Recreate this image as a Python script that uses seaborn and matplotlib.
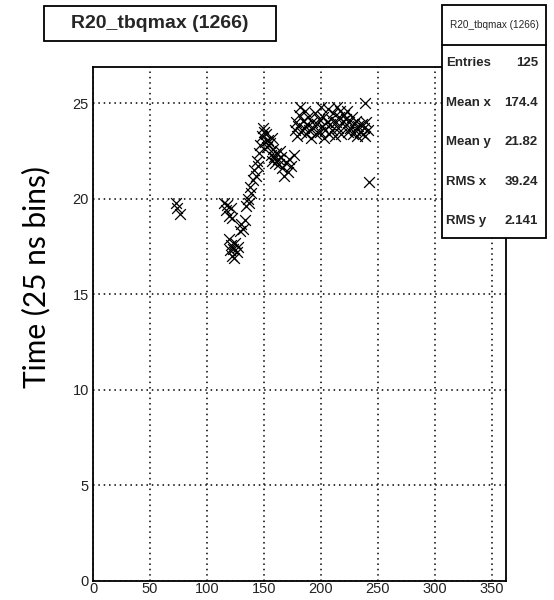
import matplotlib
matplotlib.use("Agg")
import matplotlib.pyplot as plt
import seaborn as sns
import numpy as np
import pandas as pd
from matplotlib.patches import Rectangle
from matplotlib.lines import Line2D
from matplotlib.ticker import MultipleLocator

# ---- data ----
x_vals = [73, 74, 76,
          115, 117, 118, 119, 121, 122,
          119, 120, 121, 122, 123, 124, 125, 126, 127,
          129, 130, 132, 133,
          134, 136, 137, 139, 138,
          140, 141, 143, 144, 145, 146, 147,
          148, 149, 150, 151, 152, 153, 154, 155, 157,
          156, 157, 158, 159, 160, 161, 162, 163, 164, 165,
          166, 168, 169, 171, 172, 174, 176,
          177, 178, 179, 180, 181, 182, 183, 184, 185, 186, 187, 188, 189, 190, 191, 192, 193, 195, 196, 197, 198, 199,
          200, 201, 202, 203, 204, 205, 206, 207, 208, 209, 210, 211, 212, 213, 214, 215, 216, 217, 218, 219,
          220, 221, 222, 223, 224, 225, 226, 227, 228, 229, 230, 231, 232, 233, 234,
          236, 237, 238, 239, 240, 241,
          239, 242]
y_vals = [19.8, 19.5, 19.2,
          19.8, 19.4, 19.7, 19.1, 19.5, 19.0,
          17.9, 17.3, 17.6, 17.0, 17.4, 16.9, 17.7, 17.2, 17.5,
          18.3, 18.7, 18.4, 18.9,
          19.6, 20.0, 19.8, 20.3, 20.6,
          21.0, 21.5, 21.2, 22.0, 21.7, 22.4, 22.8,
          23.3, 23.7, 23.5, 23.0, 23.4, 22.7, 23.1, 22.9, 23.2,
          22.3, 22.0, 22.6, 22.2, 21.9, 22.4, 22.1, 21.8, 22.5, 22.2,
          21.6, 21.2, 21.9, 21.4, 22.1, 21.7, 22.3,
          23.6, 24.0, 23.3, 23.8, 24.4, 24.8, 23.5, 24.1, 23.7, 24.6, 23.4, 23.9, 24.3, 23.6, 23.2, 24.0, 23.7, 24.5, 23.4, 23.9, 24.2, 23.5,
          24.8, 23.8, 24.3, 23.2, 23.6, 24.0, 24.7, 23.4, 23.9, 24.2, 23.6, 24.5, 23.3, 24.0, 24.8, 23.7, 24.3, 24.6, 23.4, 24.1,
          24.4, 23.8, 24.2, 24.6, 23.5, 24.0, 23.7, 24.3, 23.4, 23.9, 23.6, 24.1, 23.3, 23.8, 23.5,
          23.9, 23.4, 23.7, 23.3, 24.0, 23.6,
          25.0, 20.9]

x_ticks = [0, 50, 100, 150, 200, 250, 300, 350]
y_ticks = [0, 5, 10, 15, 20, 25]
title_text = "R20_tbqmax (1266)"
stat_names = ["Entries", "Mean x", "Mean y", "RMS x", "RMS y"]
stat_values = ["125", "174.4", "21.82", "39.24", "2.141"]
y_label = "Time (25 ns bins)"

df = pd.DataFrame({"x": x_vals, "y": y_vals})

sns.set_style("white")
plt.rcParams['font.family'] = ['Liberation Sans', 'DejaVu Sans']

W, H = 554, 600
fig = plt.figure(figsize=(W / 100, H / 100), dpi=100)
fig.patch.set_facecolor("white")

L, R, T, B = 93, 506, 67, 581
ax = fig.add_axes([L / W, 1 - B / H, (R - L) / W, (B - T) / H])

sns.scatterplot(data=df, x="x", y="y", marker="x", color="black", s=60,
                linewidth=0.9, ax=ax, legend=False, zorder=3)

ax.set_xlim(0, 362.5)
ax.set_ylim(0, 26.9)
ax.set_xticks(x_ticks)
ax.set_yticks(y_ticks)
ax.xaxis.set_minor_locator(MultipleLocator(10))
ax.yaxis.set_minor_locator(MultipleLocator(1))
ax.tick_params(axis="both", which="major", direction="in", length=12.5, width=1.2,
               labelsize=10.5, colors="black", labelcolor="#222222",
               top=False, right=False)
ax.tick_params(axis="both", which="minor", direction="in", length=7, width=1.2,
               top=False, right=False)
ax.tick_params(axis="x", which="major", pad=1)
ax.tick_params(axis="y", which="major", pad=3)
ax.grid(True, which="major", linestyle=(0, (1, 2.5)), color="black", linewidth=1.1)
ax.set_axisbelow(True)
for sp in ax.spines.values():
    sp.set_color("black")
    sp.set_linewidth(1.3)
    sp.set_visible(True)
ax.set_xlabel("")
ax.set_ylabel("")

# y label
fig.text(36 / W, 1 - 277 / H, y_label, rotation=90, ha="center", va="center",
         fontsize=21.5, family=["Lato", "DejaVu Sans"], color="black")

# title box
tx0, tx1, ty0, ty1 = 44, 276, 6, 41
fig.patches.append(Rectangle((tx0 / W, 1 - ty1 / H), (tx1 - tx0) / W, (ty1 - ty0) / H,
                             transform=fig.transFigure, facecolor="white",
                             edgecolor="black", linewidth=1.3, zorder=5))
fig.text((tx0 + tx1) / 2 / W, 1 - (ty0 + ty1) / 2 / H, title_text, ha="center",
         va="center", fontsize=14, fontweight="bold", zorder=6)

# stats box
sx0, sx1, sy0, sy1, sdiv = 442, 546, 5, 238, 45
fig.patches.append(Rectangle((sx0 / W, 1 - sy1 / H), (sx1 - sx0) / W, (sy1 - sy0) / H,
                             transform=fig.transFigure, facecolor="white",
                             edgecolor="black", linewidth=1.3, zorder=5))
fig.lines.append(Line2D([sx0 / W, sx1 / W], [1 - sdiv / H, 1 - sdiv / H],
                        transform=fig.transFigure, color="black", linewidth=1.3, zorder=6))
fig.text((sx0 + sx1) / 2 / W, 1 - (sy0 + sdiv) / 2 / H, title_text, ha="center",
         va="center", fontsize=7.2, zorder=7)
row_y = [63, 103, 142, 182, 221]
for name, val, ry in zip(stat_names, stat_values, row_y):
    fig.text((sx0 + 4) / W, 1 - ry / H, name, ha="left", va="center",
             fontsize=9.5, fontweight="bold", zorder=7)
    fig.text((sx1 - 8) / W, 1 - ry / H, val, ha="right", va="center",
             fontsize=9.5, fontweight="bold", zorder=7)

fig.savefig("out.png", dpi=100)
